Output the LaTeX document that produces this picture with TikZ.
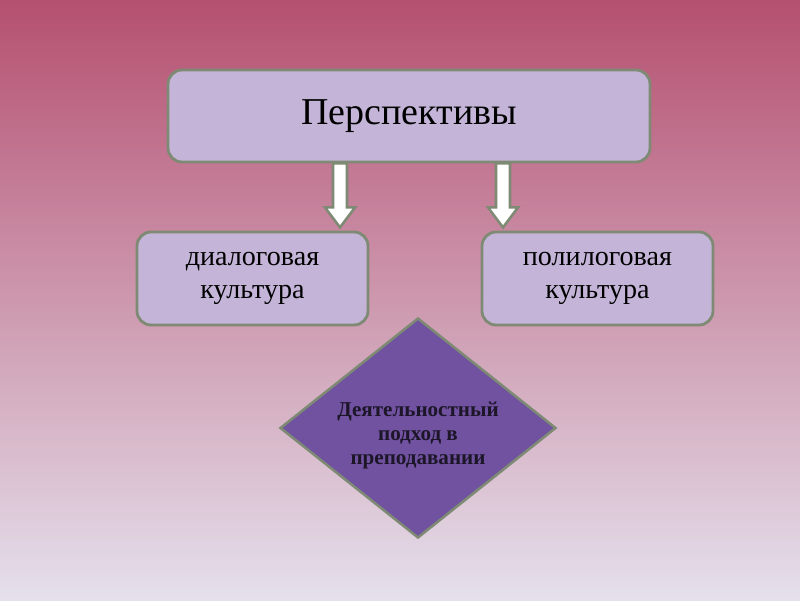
\documentclass[tikz,border=0pt]{standalone}
\usepackage{fontspec}
\setmainfont{Liberation Serif}
\usetikzlibrary{calc,shapes.geometric}
\definecolor{boxfill}{RGB}{196,181,216}
\definecolor{boxline}{RGB}{126,138,116}
\definecolor{diafill}{RGB}{112,82,160}
\definecolor{diatext}{RGB}{28,22,40}
\definecolor{bgtop}{RGB}{181,80,112}
\definecolor{bgmid}{RGB}{222,178,195}
\definecolor{bgbot}{RGB}{229,224,236}
\tikzset{
  topicbox/.style={
    draw=boxline, fill=boxfill, line width=2pt,
    rounded corners=0.35cm, align=center, inner sep=0pt
  },
  blockarr/.style={draw=boxline, fill=white, line width=1.8pt, line join=miter},
  approach/.style={
    diamond, draw=boxline, fill=diafill, line width=1.8pt,
    minimum width=6.9cm, minimum height=5.5cm, inner sep=0pt
  },
  approachtext/.style={
    align=center, text=diatext, yshift=-0.18cm,
    font=\bfseries\fontsize{15}{17}\selectfont
  }
}
\newcommand{\blockarrow}[2]{%
  \draw[blockarr] let \p1=(#1), \p2=(#2) in
    (\x1-0.175cm,\y1) -- (\x1-0.175cm,\y2+0.5cm) -- (\x1-0.375cm,\y2+0.5cm)
    -- (\x2,\y2) -- (\x1+0.375cm,\y2+0.5cm) -- (\x1+0.175cm,\y2+0.5cm)
    -- (\x1+0.175cm,\y1) -- cycle;%
}

\begin{document}
\begin{tikzpicture}
    \shade[top color=bgtop, middle color=bgmid, bottom color=bgbot]
      (0,0) rectangle (20,15);
    \useasboundingbox (0,0) rectangle (20,15);

    \node[topicbox, minimum width=12.05cm, minimum height=2.3cm,
          font=\fontsize{27}{30}\selectfont] (Perspektivy) at (10.225,12.1) {Перспективы};
    \node[topicbox, minimum width=5.775cm, minimum height=2.325cm,
          font=\fontsize{20}{23}\selectfont] (Dialog) at (6.3125,8.0375) {диалоговая\\культура};
    \node[topicbox, minimum width=5.775cm, minimum height=2.325cm,
          font=\fontsize{20}{23}\selectfont] (Polilog) at (14.9375,8.0375) {полилоговая\\культура};
    \node[approach, label={[approachtext]center:Деятельностный\\подход в\\преподавании}]
      (Podkhod) at (10.45,4.3) {};

    \coordinate (dialtop) at ($(Perspektivy.south -| 8.5,0)$);
    \coordinate (dialtip) at ($(dialtop |- Dialog.north)+(0,0.08)$);
    \coordinate (politop) at ($(Perspektivy.south -| 12.575,0)$);
    \coordinate (politip) at ($(politop |- Polilog.north)+(0,0.08)$);
    \blockarrow{dialtop}{dialtip}
    \blockarrow{politop}{politip}
\end{tikzpicture}
\end{document}
